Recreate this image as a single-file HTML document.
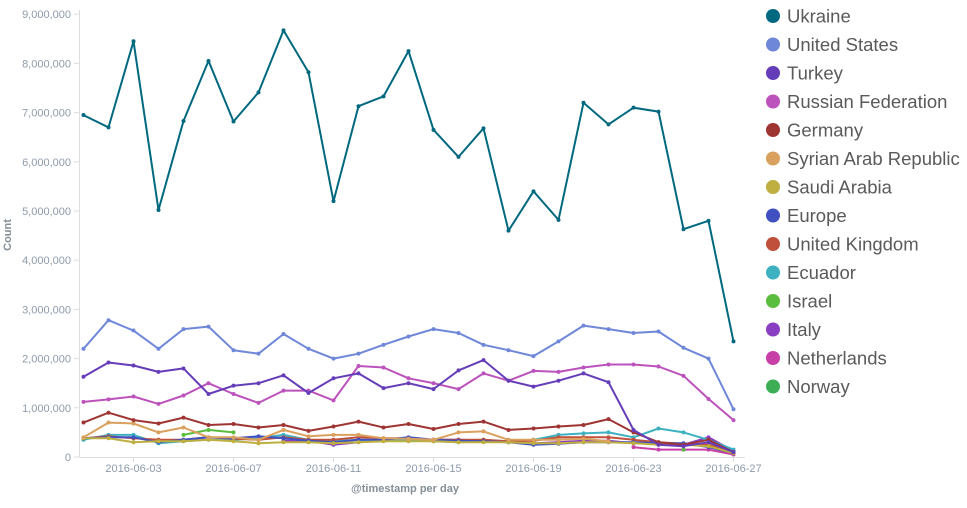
<!DOCTYPE html><html><head><meta charset="utf-8"><style>
body{margin:0;background:#fff;width:967px;height:503px;overflow:hidden;font-family:"Liberation Sans",sans-serif}
</style></head><body>
<svg width="967" height="503" xmlns="http://www.w3.org/2000/svg" font-family="Liberation Sans, sans-serif">
<g id="axes" stroke="#ddd" stroke-width="1" fill="none">
<line x1="79.5" y1="10" x2="79.5" y2="457"/>
<line x1="79.5" y1="457.5" x2="745" y2="457.5"/>
</g>
<g id="yl" font-size="11" fill="#8e9bab" text-anchor="end"></g>
<g id="xl" font-size="11" fill="#8e9bab" text-anchor="middle"></g>
<text x="11" y="235" font-size="11" font-weight="bold" fill="#848e96" transform="rotate(-90 11 235)" text-anchor="middle">Count</text>
<text x="405" y="492" font-size="11" font-weight="bold" fill="#848e96" text-anchor="middle">@timestamp per day</text>
<g id="series" fill="none" stroke-width="2" stroke-linejoin="round"></g>
<g id="legend" font-size="18.5" fill="#5a5a5a"></g>
</svg>
<script>
var ns="http://www.w3.org/2000/svg";
function el(t,a,p,txt){var e=document.createElementNS(ns,t);for(var k in a)e.setAttribute(k,a[k]);if(txt)e.textContent=txt;p.appendChild(e);return e;}
var yl=document.getElementById('yl'),ax=document.getElementById('axes');
function Y(v){return 457-v*49.2;}
for(var i=0;i<=9;i++){var y=Y(i);el('text',{x:71,y:y+4},yl,(i==0?'0':i+',000,000'));el('line',{x1:74,x2:79,y1:y,y2:y},ax);}
var xl=document.getElementById('xl');
['03','07','11','15','19','23','27'].forEach(function(d,i){var x=133.5+i*100;el('text',{x:x,y:472},xl,'2016-06-'+d);el('line',{x1:x,x2:x,y1:457,y2:462},ax);});
function X(i){return 83.5+i*25;}
var S=[
['Ukraine','#00687f',[6.95,6.7,8.45,5.02,6.83,8.05,6.82,7.41,8.67,7.82,5.2,7.13,7.33,8.25,6.65,6.1,6.68,4.6,5.4,4.82,7.2,6.76,7.1,7.02,4.63,4.8,2.35]],
['United States','#6f87d8',[2.2,2.78,2.57,2.2,2.6,2.65,2.17,2.1,2.5,2.2,2.0,2.1,2.28,2.45,2.6,2.52,2.28,2.17,2.05,2.35,2.67,2.6,2.52,2.55,2.22,2.0,0.97]],
['Turkey','#663db8',[1.63,1.92,1.86,1.73,1.8,1.28,1.45,1.5,1.66,1.3,1.6,1.7,1.4,1.5,1.38,1.76,1.97,1.55,1.43,1.55,1.7,1.52,0.55,0.25,0.22,0.3,0.1]],
['Russian Federation','#bc52bc',[1.12,1.17,1.23,1.08,1.25,1.5,1.28,1.1,1.35,1.35,1.15,1.85,1.82,1.6,1.5,1.38,1.7,1.55,1.75,1.73,1.82,1.88,1.88,1.84,1.65,1.18,0.75]],
['Germany','#9e3533',[0.7,0.9,0.75,0.68,0.8,0.65,0.67,0.6,0.65,0.53,0.62,0.72,0.6,0.67,0.57,0.67,0.72,0.55,0.58,0.62,0.65,0.77,0.5,0.3,0.25,0.35,0.1]],
['Syrian Arab Republic','#daa05d',[0.4,0.7,0.68,0.5,0.6,0.4,0.4,0.35,0.55,0.42,0.45,0.45,0.38,0.37,0.35,0.5,0.52,0.35,0.35,0.35,0.37,0.32,null,null,null,null,null]],
['Saudi Arabia','#bfaf40',[0.38,0.38,0.3,0.32,0.32,0.35,0.32,0.28,0.3,0.3,0.28,0.3,0.32,0.32,0.32,0.3,0.3,0.3,0.28,0.28,0.3,0.3,0.28,0.25,0.25,0.22,0.08]],
['Europe','#4050c0',[0.38,0.4,0.4,0.3,0.35,0.4,0.38,0.42,0.38,0.33,0.3,0.35,0.35,0.4,0.35,0.33,0.32,0.3,0.25,0.27,0.3,0.3,0.3,0.28,0.28,0.2,0.08]],
['United Kingdom','#c0503b',[0.38,0.42,0.38,0.35,0.35,0.4,0.37,0.35,0.4,0.35,0.35,0.4,0.38,0.38,0.35,0.35,0.35,0.32,0.33,0.4,0.4,0.4,0.35,0.3,0.27,0.25,0.1]],
['Ecuador','#3db1c0',[0.35,0.45,0.45,0.28,0.32,0.35,0.35,0.38,0.45,0.35,0.32,0.35,0.33,0.35,0.32,0.3,0.35,0.3,0.35,0.45,0.48,0.5,0.4,0.58,0.5,0.35,0.15]],
['Israel','#5bbd3d',[null,null,null,null,0.45,0.55,0.5,null,null,null,null,null,null,null,null,null,null,null,null,null,null,null,null,null,0.15,null,null]],
['Italy','#8a3fc2',[null,null,null,null,null,null,null,null,0.33,0.33,0.25,0.3,0.33,0.37,0.35,0.35,0.33,0.3,0.28,0.3,0.33,0.33,0.28,0.28,0.25,0.4,0.12]],
['Netherlands','#c83fa8',[null,null,null,null,null,null,null,null,null,null,null,null,null,null,null,null,null,null,null,null,null,null,0.2,0.15,0.15,0.15,0.05]],
['Norway','#3dae55',[]]
];
var sg=document.getElementById('series'),lg=document.getElementById('legend');
for(var s=S.length-1;s>=0;s--){var d=S[s][2],pts=[];
 function flush(){if(pts.length>1)el('polyline',{points:pts.join(' '),stroke:S[s][1]},sg);pts=[];}
 for(var i=0;i<d.length;i++){if(d[i]==null){flush();continue;}pts.push(X(i)+','+Y(d[i]).toFixed(1));el('circle',{cx:X(i),cy:Y(d[i]),r:2,fill:S[s][1]},sg);}
 flush();}
S.forEach(function(s,i){var y=16+i*28.5;el('circle',{cx:773,cy:y,r:7,fill:s[1]},lg);el('text',{x:787,y:y+6.5},lg,s[0]);});
</script>
</body></html>
